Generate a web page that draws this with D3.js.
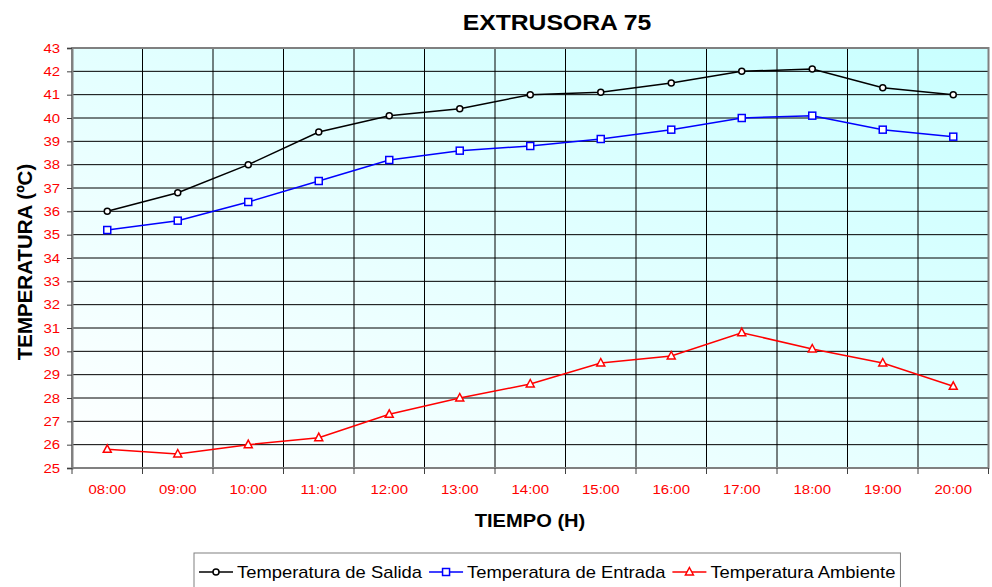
<!doctype html>
<html>
<head>
<meta charset="utf-8">
<script src="https://cdnjs.cloudflare.com/ajax/libs/d3/7.8.5/d3.min.js"></script>
<style>
  body { margin: 0; background: #fff; }
  text { font-family: "Liberation Sans", Arial, sans-serif; }
  .tick-label { fill: #ff0000; font-size: 13px; }
  .grid line { stroke: #000; stroke-width: 1; }
  .legend-text { font-size: 16px; fill: #000; }
</style>
</head>
<body>
<svg id="chart" width="992" height="587"></svg>
<script>
// chart data
const hours = ["08:00","09:00","10:00","11:00","12:00","13:00","14:00","15:00","16:00","17:00","18:00","19:00","20:00"];
const salida   = [36.0, 36.8, 38.0, 39.4, 40.1, 40.4, 41.0, 41.1, 41.5, 42.0, 42.1, 41.3, 41.0];
const entrada  = [35.2, 35.6, 36.4, 37.3, 38.2, 38.6, 38.8, 39.1, 39.5, 40.0, 40.1, 39.5, 39.2];
const ambiente = [25.8, 25.6, 26.0, 26.3, 27.3, 28.0, 28.6, 29.5, 29.8, 30.8, 30.1, 29.5, 28.5];
const yTicks = d3.range(25, 44, 1);
const seriesNames = ["Temperatura de Salida", "Temperatura de Entrada", "Temperatura Ambiente"];

const SX = 1.15; // the original text is slightly stretched horizontally

const pLeft = 72, pRight = 988.5, pTop = 48, pBottom = 468;
const svg = d3.select("#chart");

const x = d3.scaleBand().domain(hours).range([pLeft, pRight]).padding(0);
const y = d3.scaleLinear().domain([25, 43]).range([pBottom, pTop]);

// background gradient
const defs = svg.append("defs");
const grad = defs.append("linearGradient").attr("id", "bg")
  .attr("x1", 0).attr("y1", 1).attr("x2", 1).attr("y2", 0);
grad.append("stop").attr("offset", "0%").attr("stop-color", "#ffffff");
grad.append("stop").attr("offset", "100%").attr("stop-color", "#c8ffff");

svg.append("rect")
  .attr("x", pLeft).attr("y", pTop)
  .attr("width", pRight - pLeft).attr("height", pBottom - pTop)
  .attr("fill", "url(#bg)");

// grid
const grid = svg.append("g").attr("class", "grid");
grid.selectAll(".h").data(yTicks.slice(1, -1)).enter().append("line")
  .attr("x1", pLeft).attr("x2", pRight)
  .attr("y1", d => y(d)).attr("y2", d => y(d));
grid.selectAll(".v").data(hours.slice(1)).enter().append("line")
  .attr("x1", d => x(d)).attr("x2", d => x(d))
  .attr("y1", pTop).attr("y2", pBottom);

// border
svg.append("rect")
  .attr("x", pLeft).attr("y", pTop)
  .attr("width", pRight - pLeft).attr("height", pBottom - pTop)
  .attr("fill", "none").attr("stroke", "#808080").attr("stroke-width", 2);

// y axis
const yAxis = svg.append("g")
  .attr("transform", `translate(${pLeft},0)`)
  .call(d3.axisLeft(y).tickValues(yTicks).tickSize(5).tickPadding(7).tickFormat(d3.format("d")));
yAxis.select(".domain").attr("stroke", "#808080").attr("stroke-width", 2);
yAxis.selectAll(".tick line").attr("stroke", "#404040");
yAxis.selectAll(".tick text")
  .attr("class", "tick-label")
  .attr("fill", null)
  .attr("x", -12 / SX)
  .attr("transform", `scale(${SX},1)`);
yAxis.attr("font-family", null).attr("font-size", null);

// x axis: labels at category centres, tick marks at boundaries
const xAxis = svg.append("g")
  .attr("transform", `translate(0,${pBottom})`)
  .call(d3.axisBottom(x).tickSize(0).tickPadding(17));
xAxis.attr("font-family", null).attr("font-size", null);
xAxis.select(".domain").remove();
xAxis.selectAll(".tick text")
  .attr("class", "tick-label")
  .attr("fill", null)
  .attr("transform", `scale(${SX},1)`);
svg.append("g").selectAll("line")
  .data(hours.concat(["end"])).enter().append("line")
  .attr("x1", (d, i) => i < hours.length ? x(d) : pRight)
  .attr("x2", (d, i) => i < hours.length ? x(d) : pRight)
  .attr("y1", pBottom).attr("y2", pBottom + 6)
  .attr("stroke", "#404040");

// titles
function stretchedText(g, cx, cy, txt, size, bold) {
  return g.append("text")
    .attr("transform", `translate(${cx},${cy}) scale(${SX},1)`)
    .attr("text-anchor", "middle")
    .attr("font-size", size)
    .attr("font-weight", bold ? "bold" : null)
    .text(txt);
}
stretchedText(svg, 557, 30, "EXTRUSORA 75", "21.5px", true);
stretchedText(svg, 530, 527, "TIEMPO (H)", "17.5px", true);
svg.append("text")
  .attr("transform", `translate(32,${(pTop + pBottom) / 2 + 4}) rotate(-90)`)
  .attr("text-anchor", "middle")
  .attr("font-size", "20.5px")
  .attr("font-weight", "bold")
  .text("TEMPERATURA (ºC)");

// series
const series = [
  { name: seriesNames[0], values: salida,   color: "#000000", marker: "circle" },
  { name: seriesNames[1], values: entrada,  color: "#0000ff", marker: "square" },
  { name: seriesNames[2], values: ambiente, color: "#ff0000", marker: "triangle" }
];

const cx = d => x(d) + x.bandwidth() / 2;
const line = d3.line().x((v, i) => cx(hours[i])).y(v => y(v));

function drawMarker(g, type, px, py, color) {
  if (type === "circle") {
    g.append("circle").attr("cx", px).attr("cy", py).attr("r", 3)
      .attr("fill", "#fff").attr("stroke", color).attr("stroke-width", 1.5);
  } else if (type === "square") {
    g.append("rect").attr("x", px - 3.5).attr("y", py - 3.5).attr("width", 7).attr("height", 7)
      .attr("fill", "#fff").attr("stroke", color).attr("stroke-width", 1.5);
  } else {
    g.append("path")
      .attr("d", `M${px},${py - 4.5}L${px + 4},${py + 3}L${px - 4},${py + 3}Z`)
      .attr("fill", "#fff").attr("stroke", color).attr("stroke-width", 1.5);
  }
}

series.forEach(s => {
  const g = svg.append("g");
  g.append("path").datum(s.values)
    .attr("d", line).attr("fill", "none")
    .attr("stroke", s.color).attr("stroke-width", 1.5);
  s.values.forEach((v, i) => drawMarker(g, s.marker, cx(hours[i]), y(v), s.color));
});

// legend
const legend = svg.append("g");
const box = legend.append("rect")
  .attr("x", 194).attr("y", 553)
  .attr("height", 40)
  .attr("fill", "#fff").attr("stroke", "#808080").attr("stroke-width", 1);
let lx = 199;
series.forEach(s => {
  legend.append("line").attr("x1", lx).attr("x2", lx + 34)
    .attr("y1", 572).attr("y2", 572)
    .attr("stroke", s.color).attr("stroke-width", 1.5);
  drawMarker(legend, s.marker, lx + 17, 572, s.color);
  const t = legend.append("text")
    .attr("class", "legend-text")
    .attr("transform", `translate(${lx + 38},577.5) scale(${SX},1)`)
    .text(s.name);
  lx += 38 + t.node().getComputedTextLength() * SX + 7;
});
box.attr("width", lx - 194 - 2);
</script>
</body>
</html>
